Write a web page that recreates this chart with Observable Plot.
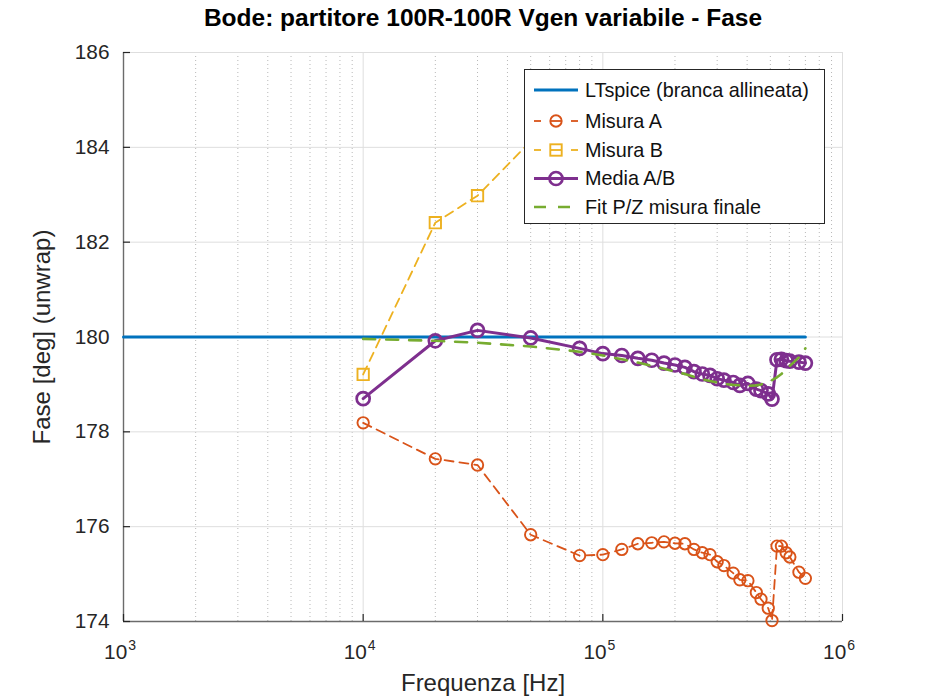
<!DOCTYPE html>
<html>
<head>
<meta charset="utf-8">
<script src="https://cdn.jsdelivr.net/npm/d3@7"></script>
<script src="https://cdn.jsdelivr.net/npm/@observablehq/plot@0.6"></script>
<style>
  body { margin: 0; background: #fff; font-family: "Liberation Sans", Arial, sans-serif; }
  #wrap { position: relative; width: 930px; height: 697px; }
  #legend { position: absolute; left: 524px; top: 69px; width: 301px; height: 155px;
            border: 1px solid #262626; background: #fff; box-sizing: border-box; }
  #legend svg { display: block; }
  #legend text { font-family: "Liberation Sans", Arial, sans-serif; font-size: 19.8px; fill: #111; }
</style>
</head>
<body>
<div id="wrap"><div id="chart"></div><div id="legend"></div></div>
<script>
// ---- data ----
const freq = [1e4, 2e4, 3e4, 5e4, 8e4, 1e5, 1.2e5, 1.4e5, 1.6e5, 1.8e5, 2e5, 2.2e5, 2.4e5, 2.6e5, 2.8e5,
              3e5, 3.2e5, 3.5e5, 3.73e5, 4.03e5, 4.37e5, 4.57e5, 4.9e5, 5.08e5, 5.33e5, 5.56e5, 5.82e5,
              6.03e5, 6.58e5, 7e5];
const misuraA = [178.19, 177.43, 177.30, 175.83, 175.39, 175.41, 175.52, 175.64, 175.66, 175.68, 175.65,
                 175.64, 175.52, 175.45, 175.41, 175.26, 175.18, 175.02, 174.88, 174.86, 174.61, 174.47,
                 174.28, 174.02, 175.59, 175.59, 175.45, 175.36, 175.04, 174.91];
const misuraB = [179.21, 182.41, 182.98, 184.13, 184.13, 183.89, 183.70, 183.46, 183.36, 183.22, 183.17,
                 183.08, 183.02, 182.99, 182.97, 182.98, 183.00, 183.06, 183.08, 183.18, 183.19, 183.27,
                 183.32, 183.36, 183.45, 183.47, 183.55, 183.62, 183.90, 183.99];
const mediaAB = [178.70, 179.92, 180.14, 179.98, 179.76, 179.65, 179.61, 179.55, 179.51, 179.45, 179.41,
                 179.36, 179.27, 179.22, 179.19, 179.12, 179.09, 179.04, 178.98, 179.02, 178.90, 178.87,
                 178.80, 178.69, 179.52, 179.53, 179.50, 179.49, 179.47, 179.45];
const fitPZ   = [179.96, 179.92, 179.88, 179.80, 179.69, 179.61, 179.53, 179.46, 179.39, 179.33, 179.27,
                 179.22, 179.16, 179.11, 179.07, 179.04, 179.01, 178.99, 178.98, 178.97, 178.98, 179.00,
                 179.05, 179.09, 179.15, 179.22, 179.31, 179.39, 179.57, 179.76];
const ltspiceFreq = [1e3, 7e5];
const ltspicePhase = [180, 180];
const xTicks = [1e3, 1e4, 1e5, 1e6];
const xTickExp = ["3", "4", "5", "6"];
const yTicks = [174, 176, 178, 180, 182, 184, 186];
const titleText = "Bode: partitore 100R-100R Vgen variabile - Fase";
const xLabel = "Frequenza [Hz]";
const yLabel = "Fase [deg] (unwrap)";
const legendLabels = ["LTspice (branca allineata)", "Misura A", "Misura B", "Media A/B", "Fit P/Z misura finale"];

// ---- styles ----
const C = { lt: "#0072BD", a: "#D95319", b: "#EDB120", m: "#7E2F8E", f: "#77AC30" };
const W = 930, H = 697, mT = 52, mB = 76, mL = 123, mR = 88;
const fw = W - mL - mR, fh = H - mT - mB;

const rows = freq.map((f, i) => ({ f, a: misuraA[i], b: misuraB[i], m: mediaAB[i], fit: fitPZ[i] }));
const lt = ltspiceFreq.map((f, i) => ({ f, p: ltspicePhase[i] }));
const xMinor = xTicks.slice(0, 3).flatMap(d => [2, 3, 4, 5, 6, 7, 8, 9].map(k => k * d));
const font = '"Liberation Sans", Arial, sans-serif';

const chart = Plot.plot({
  width: W, height: H,
  marginTop: mT, marginBottom: mB, marginLeft: mL, marginRight: mR,
  x: { type: "log", domain: [1e3, 1e6], axis: null },
  y: { domain: [174, 186], axis: null },
  style: { fontFamily: font, color: "#262626", background: "#fff" },
  marks: [
    // grids
    Plot.ruleX(xMinor, { stroke: "#b8b8b8", strokeDasharray: "1,3", strokeWidth: 1 }),
    Plot.ruleX(xTicks, { stroke: "#dedede", strokeWidth: 1 }),
    Plot.ruleY(yTicks, { stroke: "#dedede", strokeWidth: 1 }),
    // axes lines (left & bottom)
    Plot.ruleX([1e3], { stroke: "#6b6b6b", strokeWidth: 1.4 }),
    Plot.ruleY([174], { stroke: "#6b6b6b", strokeWidth: 1.4 }),
    // inward ticks
    Plot.tickX(xTicks, { x: d => d, insetTop: fh - 7, stroke: "#262626", strokeWidth: 1.2 }),
    Plot.tickY(yTicks, { y: d => d, insetRight: fw - 7, stroke: "#262626", strokeWidth: 1.2 }),
    // tick labels
    Plot.text(yTicks, { y: d => d, frameAnchor: "left", text: d => String(d), textAnchor: "end",
                        lineAnchor: "middle", dx: -14, fontSize: 20.8, fill: "#262626" }),
    Plot.text(xTicks, { x: d => d, frameAnchor: "bottom", text: () => "10", textAnchor: "end",
                        lineAnchor: "middle", dx: 3.7, dy: 31, fontSize: 20.8, fill: "#262626" }),
    Plot.text(xTicks, { x: d => d, frameAnchor: "bottom", text: (d, i) => xTickExp[i], textAnchor: "start",
                        lineAnchor: "middle", dx: 4.7, dy: 24.5, fontSize: 14, fill: "#262626" }),
    // axis labels and title
    Plot.text([xLabel], { frameAnchor: "bottom", textAnchor: "middle", lineAnchor: "middle",
                          dy: 62, fontSize: 24, fill: "#262626" }),
    Plot.text([yLabel], { frameAnchor: "left", textAnchor: "middle", lineAnchor: "middle",
                          dx: -81, rotate: -90, fontSize: 24, fill: "#262626" }),
    Plot.text([titleText], { frameAnchor: "top", textAnchor: "middle", lineAnchor: "middle",
                             dy: -34, fontSize: 24.5, fontWeight: "bold", fill: "#000" }),
    // data
    Plot.line(lt, { x: "f", y: "p", stroke: C.lt, strokeWidth: 3 }),
    Plot.line(rows, { x: "f", y: "a", stroke: C.a, strokeWidth: 1.8, strokeDasharray: "9,6" }),
    Plot.dot(rows, { x: "f", y: "a", r: 5.7, stroke: C.a, strokeWidth: 1.9, fill: "none" }),
    Plot.line(rows, { x: "f", y: "b", stroke: C.b, strokeWidth: 1.8, strokeDasharray: "9,6" }),
    Plot.dot(rows, { x: "f", y: "b", r: 6.4, symbol: "square", stroke: C.b, strokeWidth: 1.9, fill: "none" }),
    Plot.line(rows, { x: "f", y: "m", stroke: C.m, strokeWidth: 3 }),
    Plot.dot(rows, { x: "f", y: "m", r: 6.5, stroke: C.m, strokeWidth: 2.7, fill: "none" }),
    Plot.line(rows, { x: "f", y: "fit", stroke: C.f, strokeWidth: 2.6, strokeDasharray: "12,11" })
  ]
});
document.getElementById("chart").appendChild(chart);

// ---- legend ----
const ys = [20, 51, 80, 108.5, 137];
const lg = d3.select("#legend").append("svg").attr("width", 299).attr("height", 153);
const sym = [
  g => g.append("line").attr("x1", 9).attr("x2", 53).attr("stroke", C.lt).attr("stroke-width", 3),
  g => {
    [[9, 16], [25, 37], [46, 53]].forEach(([a, b]) => g.append("line").attr("x1", a).attr("x2", b).attr("stroke", C.a).attr("stroke-width", 1.8));
    g.append("circle").attr("cx", 31).attr("r", 5.7).attr("fill", "none").attr("stroke", C.a).attr("stroke-width", 1.9);
  },
  g => {
    [[9, 16], [25, 37], [46, 53]].forEach(([a, b]) => g.append("line").attr("x1", a).attr("x2", b).attr("stroke", C.b).attr("stroke-width", 1.8));
    g.append("rect").attr("x", 25.3).attr("y", -5.7).attr("width", 11.4).attr("height", 11.4).attr("fill", "none").attr("stroke", C.b).attr("stroke-width", 1.9);
  },
  g => {
    g.append("line").attr("x1", 9).attr("x2", 53).attr("stroke", C.m).attr("stroke-width", 3);
    g.append("circle").attr("cx", 31).attr("r", 6.5).attr("fill", "none").attr("stroke", C.m).attr("stroke-width", 2.7);
  },
  g => g.append("line").attr("x1", 9).attr("x2", 53).attr("stroke", C.f).attr("stroke-width", 2.6).attr("stroke-dasharray", "12,12")
];
legendLabels.forEach((t, i) => {
  const g = lg.append("g").attr("transform", `translate(0,${ys[i]})`);
  sym[i](g);
  g.append("text").attr("x", 60).attr("y", 0).attr("dy", "0.35em").text(t);
});
</script>
</body>
</html>
